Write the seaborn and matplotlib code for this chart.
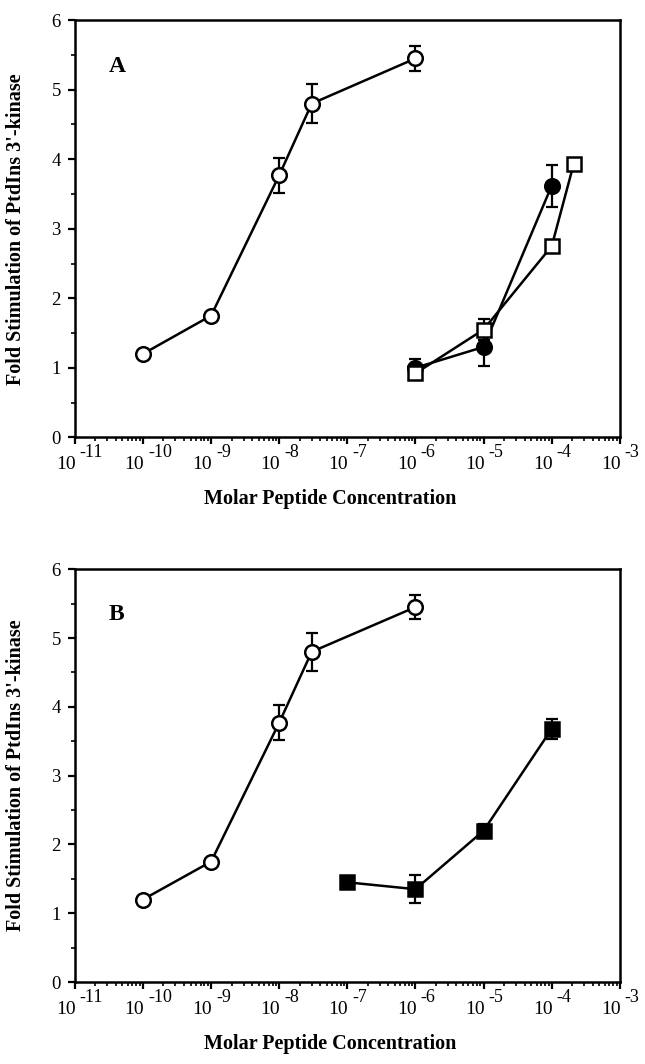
import numpy as np
import pandas as pd
import matplotlib
matplotlib.use('Agg')
import matplotlib.pyplot as plt
import matplotlib.ticker as mticker
import matplotlib.transforms as mtransforms
import seaborn as sns

# data
conc_open_circ = [1e-10, 1e-9, 1e-8, 3e-8, 1e-6]
fold_open_circ = [1.2, 1.75, 3.77, 4.8, 5.45]
err_open_circ = [0.05, 0.0, 0.25, 0.28, 0.18]

conc_fill_circ = [1e-6, 1e-5, 1e-4]
fold_fill_circ = [1.0, 1.3, 3.62]
err_fill_circ = [0.13, 0.27, 0.3]

conc_open_sq = [1e-6, 1e-5, 1e-4, 2.1e-4]
fold_open_sq = [0.92, 1.55, 2.75, 3.93]
err_open_sq = [0.0, 0.15, 0.0, 0.0]

conc_fill_sq = [1e-7, 1e-6, 1e-5, 1e-4]
fold_fill_sq = [1.45, 1.35, 2.2, 3.68]
err_fill_sq = [0.0, 0.2, 0.1, 0.15]

decades = list(range(-11, -2))
exp_labels = ['-11', '-10', '-9', '-8', '-7', '-6', '-5', '-4', '-3']

sns.set_style('ticks')
plt.rcParams['font.family'] = ['Liberation Serif', 'DejaVu Serif']
for key in ['text.color', 'axes.labelcolor', 'axes.edgecolor', 'xtick.color', 'ytick.color']:
    plt.rcParams[key] = 'black'

fig = plt.figure(figsize=(6.45, 10.64), dpi=100)
axA = fig.add_axes([0.116, 0.589, 0.845, 0.392])
axB = fig.add_axes([0.116, 0.077, 0.845, 0.388])


def draw_series(ax, x, y, err, marker, filled):
    df = pd.DataFrame({'conc': x, 'fold': y})
    sns.lineplot(data=df, x='conc', y='fold', ax=ax, color='black', lw=1.8,
                 marker=marker, markersize=10.5 if marker == 'o' else 9.5,
                 markerfacecolor='black' if filled else 'white',
                 markeredgecolor='black', markeredgewidth=1.8, zorder=3)
    ax.errorbar(x, y, yerr=err, fmt='none', ecolor='black', elinewidth=1.6,
                capsize=4, capthick=1.6, zorder=2)


def style_axis(ax, letter):
    ax.set_xscale('log')
    ax.set_xlim(1e-11, 1e-3)
    ax.set_ylim(0, 6)
    ax.set_xticks([10.0 ** e for e in decades])
    ax.set_xticklabels([])
    ax.xaxis.set_minor_locator(mticker.LogLocator(base=10, subs=np.arange(2, 10), numticks=20))
    ax.xaxis.set_minor_formatter(mticker.NullFormatter())
    ax.set_yticks(range(0, 7))
    ax.yaxis.set_minor_locator(mticker.MultipleLocator(0.5))
    ax.tick_params(axis='both', which='major', direction='out', length=5, width=1.6,
                   labelsize=13.5)
    ax.tick_params(axis='y', which='major', pad=5)
    ax.tick_params(axis='both', which='minor', direction='out', length=3, width=1.2)
    for s in ax.spines.values():
        s.set_linewidth(1.8)
        s.set_visible(True)

    # "10" with a raised exponent under each decade tick
    blend = mtransforms.blended_transform_factory(ax.transData, ax.transAxes)
    base_tr = mtransforms.offset_copy(blend, fig=fig, x=1, y=-27, units='dots')
    exp_tr = mtransforms.offset_copy(blend, fig=fig, x=5, y=-15, units='dots')
    for e, lab in zip(decades, exp_labels):
        ax.text(10.0 ** e, 0, '10', transform=base_tr, ha='right', va='center',
                fontsize=14, clip_on=False)
        ax.text(10.0 ** e, 0, lab, transform=exp_tr, ha='left', va='center',
                fontsize=13, clip_on=False)

    ax.set_xlabel('Molar Peptide Concentration', fontsize=14.5, fontweight='bold')
    ax.xaxis.set_label_coords(0.468, -0.125)
    ax.set_ylabel("Fold Stimulation of PtdIns 3'-kinase", fontsize=14.5, fontweight='bold')
    ax.yaxis.set_label_coords(-0.09, 0.5)
    ax.text(0.062, 0.89, letter, transform=ax.transAxes, fontsize=17, fontweight='bold',
            ha='left', va='center')


draw_series(axA, conc_open_circ, fold_open_circ, err_open_circ, 'o', False)
draw_series(axA, conc_fill_circ, fold_fill_circ, err_fill_circ, 'o', True)
draw_series(axA, conc_open_sq, fold_open_sq, err_open_sq, 's', False)
style_axis(axA, 'A')

draw_series(axB, conc_open_circ, fold_open_circ, err_open_circ, 'o', False)
draw_series(axB, conc_fill_sq, fold_fill_sq, err_fill_sq, 's', True)
style_axis(axB, 'B')

fig.savefig('out.png', dpi=100)
